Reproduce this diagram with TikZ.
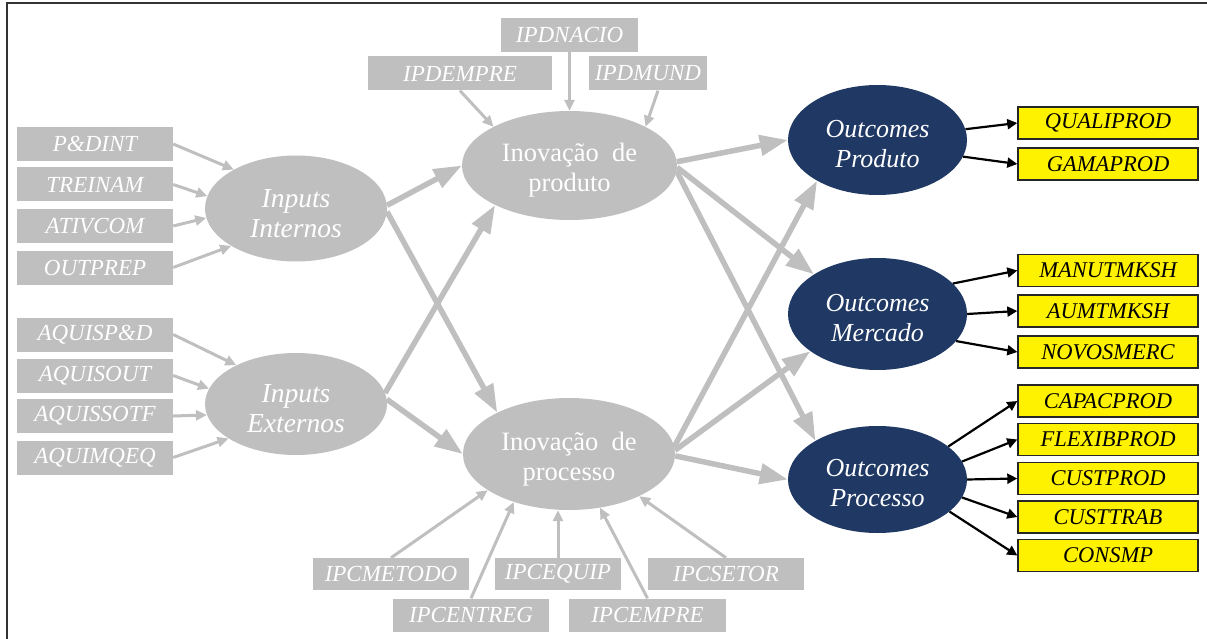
\documentclass[tikz,border=0pt]{standalone}
\usepackage{fontspec}
\setmainfont{Liberation Serif}
\usetikzlibrary{arrows.meta,shapes.geometric}
\definecolor{boxgray}{HTML}{BFBFBF}
\definecolor{navy}{HTML}{1F3864}
\definecolor{frameline}{HTML}{333333}

\tikzset{
  gbox/.style={fill=boxgray, inner sep=0pt, minimum height=34pt, minimum width=156pt,
               text=white, font=\fontsize{23}{25}\selectfont\itshape},
  ybox/.style={fill=yellow, draw=black!85, line width=1.4pt, inner sep=0pt,
               minimum width=180pt, minimum height=32pt,
               font=\fontsize{22.5}{24}\selectfont\itshape},
  gell/.style={ellipse, fill=boxgray, inner sep=0pt},
  nell/.style={ellipse, fill=navy, inner sep=0pt},
  elltext/.style={inner sep=0pt, text=white, align=center,
                  font=\fontsize{26.5}{30}\selectfont},
  thin/.style={draw=boxgray, line width=3pt, -{Triangle[length=11pt,width=10pt]}},
  thick/.style={draw=boxgray, line width=5.5pt, -{Triangle[length=28pt,width=20pt]}},
  blk/.style={draw=black, line width=2.2pt, -{Triangle[length=10pt,width=10pt]}},
}

\begin{document}
\begin{tikzpicture}[x=1pt,y=-1pt]
\useasboundingbox (0,0) rectangle (1207,639);
% frame
\draw[frameline, line width=2pt] (7,639) -- (7,3) -- (1207,3);

% input variables
\node[gbox] (pd)   at (95,144)   {P\&DINT};
\node[gbox] (tr)   at (95,184.5) {TREINAM};
\node[gbox] (at)   at (95,226)   {ATIVCOM};
\node[gbox] (op)   at (95,267.5) {OUTPREP};
\node[gbox] (apd)  at (95,334.5) {AQUISP\&D};
\node[gbox] (aout) at (95,375.5) {AQUISOUT};
\node[gbox] (asof) at (95,416)   {AQUISSOTF};
\node[gbox] (amq)  at (95,457.5) {AQUIMQEQ};

% product innovation indicators
\node[gbox, minimum width=137pt] (nac) at (569.5,35)  {IPDNACIO};
\node[gbox, minimum width=184pt] (emp) at (460,73.5)  {IPDEMPRE};
\node[gbox, minimum width=118pt] (mun) at (648,73.5)  {IPDMUND};

% process innovation indicators
\node[gbox, minimum height=32pt] (met) at (391,574)   {IPCMETODO};
\node[gbox, minimum height=33pt] (ent) at (471,615)   {IPCENTREG};
\node[gbox, minimum height=32pt, minimum width=126pt] (equ) at (558,574) {IPCEQUIP};
\node[gbox, minimum height=33pt, minimum width=157pt] (cem) at (647.5,615) {IPCEMPRE};
\node[gbox, minimum height=32pt] (set) at (726,574)   {IPCSETOR};

% latent constructs
\node[gell, minimum width=182pt, minimum height=106pt] (ii) at (296,208.5) {};
\node[gell, minimum width=182pt, minimum height=102pt] (ie) at (296,404)   {};
\node[gell, minimum width=215pt, minimum height=109pt] (ipd) at (569.5,165.5) {};
\node[gell, minimum width=212pt, minimum height=112pt] (ipc) at (569,454)     {};
\node[nell, minimum width=179pt, minimum height=110pt] (oprod) at (877.5,140)   {};
\node[nell, minimum width=179pt, minimum height=112pt] (omerc) at (877.5,314)   {};
\node[nell, minimum width=179pt, minimum height=107pt] (oproc) at (877.5,479.5) {};

\node[elltext, font=\fontsize{27.5}{30}\selectfont\itshape] (ii-t) at ([yshift=-5pt]ii.center) {Inputs\\Internos};
\node[elltext, font=\fontsize{27.5}{30}\selectfont\itshape] (ie-t) at ([yshift=-5pt]ie.center) {Inputs\\Externos};
\node[elltext] (ipd-t) at ([yshift=-5pt]ipd.center) {Inovação\ \ de\\produto};
\node[elltext] (ipc-t) at ([yshift=-5pt]ipc.center) {Inovação\ \ de\\processo};
\node[elltext, font=\fontsize{26}{30}\selectfont\itshape] (oprod-t) at ([yshift=-4pt]oprod.center) {Outcomes\\Produto};
\node[elltext, font=\fontsize{26}{30}\selectfont\itshape] (omerc-t) at ([yshift=-4pt]omerc.center) {Outcomes\\Mercado};
\node[elltext, font=\fontsize{26}{30}\selectfont\itshape] (oproc-t) at ([yshift=-4pt]oproc.center) {Outcomes\\Processo};

% outcome indicators
\node[ybox] (qual) at (1108,123)   {QUALIPROD};
\node[ybox] (gama) at (1108,164)   {GAMAPROD};
\node[ybox] (manu) at (1108,270.5) {MANUTMKSH};
\node[ybox] (aumt) at (1108,311)   {AUMTMKSH};
\node[ybox] (novo) at (1108,352)   {NOVOSMERC};
\node[ybox] (capa) at (1108,401)   {CAPACPROD};
\node[ybox] (flex) at (1108,439.5) {FLEXIBPROD};
\node[ybox] (cpro) at (1108,478.5) {CUSTPROD};
\node[ybox] (ctra) at (1108,517)   {CUSTTRAB};
\node[ybox] (cons) at (1108,555.5) {CONSMP};

% indicator arrows into inputs
\draw[thin] (pd.east)   -- (ii.148);
\draw[thin] (tr.east)   -- (ii.172);
\draw[thin] (at.east)   -- (ii.186);
\draw[thin] (op.east)   -- (ii.210);
\draw[thin] (apd.east)  -- (ie.147);
\draw[thin] (aout.east) -- (ie.170);
\draw[thin] (asof.east) -- (ie.187);
\draw[thin] (amq.east)  -- (ie.207);

% indicator arrows into innovation constructs
\draw[thin] (emp.south) -- (ipd.153);
\draw[thin] (nac.south) -- (ipd.north);
\draw[thin] ([xshift=10pt]mun.south) -- (ipd.27);
\draw[thin] (met.north) -- (ipc.204);
\draw[thin] (ent.north) -- (ipc.221);
\draw[thin] (equ.north) -- (equ.north |- ipc.south);
\draw[thin] (cem.north) -- (ipc.300);
\draw[thin] (set.north) -- (ipc.329);

% structural paths
\draw[thick] (ii.2)  -- (ipd.west);
\draw[thick] (ii.-2) -- (ipc.150);
\draw[thick] (ie.7)  -- (ipd.208);
\draw[thick] (ie.3)  -- (ipc.west);
\draw[thick] (ipd.2)  -- (oprod.west);
\draw[thick] (ipd.-1) -- (omerc.148);
\draw[thick] (ipd.-3) -- (oproc.148);
\draw[thick] (ipc.4)  -- (oprod.214);
\draw[thick] (ipc.2)  -- (omerc.209);
\draw[thick] (ipc.-1) -- (oproc.west);

% outcome indicator arrows
\draw[blk] (oprod.7)   -- (qual.west);
\draw[blk] (oprod.-11) -- (gama.west);
\draw[blk] (omerc.22)  -- (manu.west);
\draw[blk] (omerc.east) -- (aumt.west);
\draw[blk] (omerc.-19) -- (novo.west);
\draw[blk] (oproc.25)  -- (capa.west);
\draw[blk] (oproc.12)  -- (flex.west);
\draw[blk] (oproc.east) -- (cpro.west);
\draw[blk] (oproc.-12) -- (ctra.west);
\draw[blk] (oproc.-24) -- (cons.west);
\end{tikzpicture}
\end{document}
